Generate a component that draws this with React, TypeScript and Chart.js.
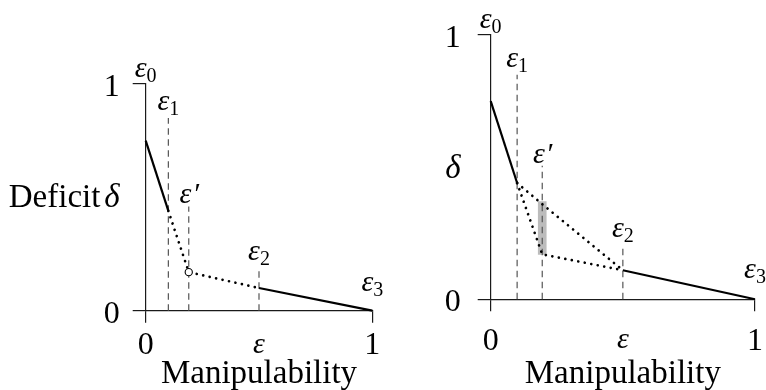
import { useEffect, useRef } from "react";
import { Chart, registerables } from "chart.js";

Chart.register(...registerables);

type Pt = [number, number];

// Shared axis ticks
const xTickValues = [0, 0.5, 1];
const xTickLabels = ["0", "ε", "1"];
const yTickValues = [0, 1];
const yTickLabels = ["0", "1"];

// Left panel: deficit curve with a single intermediate point ε′
const leftHead: Pt[] = [[0, 0.75], [0.1, 0.44]];
const leftDotted: Pt[] = [[0.1, 0.44], [0.19, 0.17], [0.5, 0.1]];
const leftTail: Pt[] = [[0.5, 0.1], [1, 0]];
const leftMarker: Pt[] = [[0.19, 0.17]];
const leftEpsX = [0.1, 0.19, 0.5];
const leftEpsTop = [0.85, 0.46, 0.19];

// Right panel: ε′ carries an interval of possible deficits
const rightHead: Pt[] = [[0, 0.75], [0.1, 0.44]];
const rightUpper: Pt[] = [[0.1, 0.44], [0.195, 0.36], [0.5, 0.11]];
const rightLower: Pt[] = [[0.1, 0.44], [0.195, 0.17], [0.5, 0.11]];
const rightTail: Pt[] = [[0.5, 0.11], [1, 0]];
const rightRangeX = [0.195];
const rightRangeLow = [0.17];
const rightRangeHigh = [0.37];
const rightEpsX = [0.1, 0.195, 0.5];
const rightEpsTop = [0.85, 0.505, 0.205];

// ε labels: guides carry ε1, ε′, ε2; the curve ends carry ε0 and ε3
const epsSubs = ["1", "′", "2"];
const endSubs = ["0", "3"];
const endAnchors: Pt[] = [[0, 1], [1, 0.055]];

const xTitle = "Manipulability";
const yWord = "Deficit";
const ySymbol = "δ";
const yTitleAt = 0.458;

const SERIF = '"Liberation Serif", "Times New Roman", serif';
const INK = "#000";
const AXIS = "#1a1a1a";
const GUIDE = "#555";
const RANGE = "#bcbcbc";

interface PanelSpec {
  left: number;
  width: number;
  pad: { left: number; right: number; top: number; bottom: number };
  yTickPad: number;
  xTickPad: number;
  xTitleDrop: number;
  showWord: boolean;
  solids: Pt[][];
  dotted: Pt[][];
  markers: Pt[];
  epsX: number[];
  epsTop: number[];
  range: boolean;
}

const LEFT: PanelSpec = {
  left: 0,
  width: 383,
  pad: { left: 75.7, right: 10.7, top: 84, bottom: 19.3 },
  yTickPad: 13,
  xTickPad: 4,
  xTitleDrop: 72.5,
  showWord: true,
  solids: [leftHead, leftTail],
  dotted: [leftDotted],
  markers: leftMarker,
  epsX: leftEpsX,
  epsTop: leftEpsTop,
  range: false,
};

const RIGHT: PanelSpec = {
  left: 383,
  width: 383,
  pad: { left: 37.7, right: 11, top: 35, bottom: 30.7 },
  yTickPad: 17,
  xTickPad: 11,
  xTitleDrop: 84,
  showWord: false,
  solids: [rightHead, rightTail],
  dotted: [rightUpper, rightLower],
  markers: [],
  epsX: rightEpsX,
  epsTop: rightEpsTop,
  range: true,
};

const Y_SCALE_WIDTH = 70;
const X_SCALE_HEIGHT = 60;

function drawEps(ctx: CanvasRenderingContext2D, cx: number, bottom: number, sub: string) {
  const epsFont = `italic 30px ${SERIF}`;
  const subFont = `20px ${SERIF}`;
  const prime = sub === "′";
  ctx.font = epsFont;
  const wE = ctx.measureText("ε").width;
  ctx.font = prime ? epsFont : subFont;
  const wS = ctx.measureText(sub).width;
  const left = cx - (wE + wS) / 2;
  const drop = prime ? 0 : 5;
  const base = bottom - drop;
  ctx.textAlign = "left";
  ctx.textBaseline = "alphabetic";
  ctx.font = epsFont;
  ctx.fillText("ε", left, base);
  ctx.font = prime ? epsFont : subFont;
  ctx.fillText(sub, left + wE + (prime ? 1 : 0), prime ? base : base + drop);
}

function textPlugin(p: PanelSpec) {
  return {
    id: "panelText",
    afterDraw(chart: any) {
      const { ctx, chartArea } = chart;
      const x = chart.scales.x;
      const y = chart.scales.y;
      ctx.save();
      ctx.fillStyle = INK;

      p.epsX.forEach((v, i) => {
        drawEps(ctx, x.getPixelForValue(v), y.getPixelForValue(p.epsTop[i]) - 3, epsSubs[i]);
      });
      endAnchors.forEach(([vx, vy], i) => {
        drawEps(ctx, x.getPixelForValue(vx), y.getPixelForValue(vy) - 2, endSubs[i]);
      });

      // y title, written horizontally beside the axis
      const xr = chartArea.left - 13 - p.yTickPad;
      const yb = y.getPixelForValue(yTitleAt);
      ctx.textBaseline = "alphabetic";
      ctx.textAlign = "right";
      ctx.font = `italic 33px ${SERIF}`;
      ctx.fillText(ySymbol, xr, yb);
      if (p.showWord) {
        const wd = ctx.measureText(ySymbol).width;
        ctx.font = `33px ${SERIF}`;
        ctx.fillText(yWord, xr - wd - 4, yb);
      }

      // x title
      ctx.textAlign = "center";
      ctx.font = `33px ${SERIF}`;
      ctx.fillText(xTitle, (chartArea.left + chartArea.right) / 2, y.getPixelForValue(0) + p.xTitleDrop);
      ctx.restore();
    },
  };
}

function buildChart(canvas: HTMLCanvasElement, p: PanelSpec) {
  const xy = (pts: Pt[]) => pts.map(([x, y]) => ({ x, y }));
  const datasets: any[] = [];

  p.markers.forEach((m) => {
    datasets.push({
      data: xy([m]),
      pointRadius: 3.6,
      pointBackgroundColor: "#fff",
      pointBorderColor: INK,
      pointBorderWidth: 1.1,
      showLine: false,
      clip: false,
    });
  });
  p.solids.forEach((s) => {
    datasets.push({
      data: xy(s),
      showLine: true,
      borderColor: INK,
      borderWidth: 2.2,
      pointRadius: 0,
      clip: false,
    });
  });
  p.dotted.forEach((s) => {
    datasets.push({
      data: xy(s),
      showLine: true,
      borderColor: INK,
      borderWidth: 2.7,
      borderDash: [0.01, 6.6],
      borderCapStyle: "round",
      pointRadius: 0,
      clip: false,
    });
  });
  p.epsX.forEach((v, i) => {
    datasets.push({
      data: [
        { x: v, y: 0 },
        { x: v, y: p.epsTop[i] },
      ],
      showLine: true,
      borderColor: GUIDE,
      borderWidth: 1.2,
      borderDash: [6.5, 4.5],
      pointRadius: 0,
      clip: false,
    });
  });
  if (p.range) {
    datasets.push({
      type: "bar",
      data: rightRangeX.map((v, i) => ({ x: v, y: [rightRangeLow[i], rightRangeHigh[i]] })),
      backgroundColor: RANGE,
      borderWidth: 0,
      barThickness: 8,
    });
  }

  const tickFont = { family: SERIF, size: 32 };
  const epsFont = { family: SERIF, size: 30, style: "italic" as const };

  return new Chart(canvas, {
    type: "scatter",
    data: { datasets },
    plugins: [textPlugin(p)],
    options: {
      responsive: false,
      animation: false,
      events: [],
      layout: { padding: p.pad, autoPadding: false },
      plugins: { legend: { display: false }, tooltip: { enabled: false } },
      scales: {
        x: {
          type: "linear",
          min: 0,
          max: 1,
          offset: false,
          afterBuildTicks: (s: any) => {
            s.ticks = xTickValues.map((value) => ({ value }));
          },
          afterFit: (s: any) => {
            s.height = X_SCALE_HEIGHT;
            s.paddingLeft = s.paddingRight = s.paddingTop = s.paddingBottom = 0;
          },
          border: { display: true, color: AXIS, width: 1.2 },
          grid: {
            offset: false,
            drawOnChartArea: false,
            drawTicks: true,
            tickLength: 12,
            lineWidth: 1.2,
            color: (c: any) => (c.tick && c.tick.value === 0.5 ? "rgba(0,0,0,0)" : AXIS),
          },
          ticks: {
            autoSkip: false,
            maxRotation: 0,
            padding: p.xTickPad,
            color: INK,
            font: (c: any) => (c.tick && c.tick.value === 0.5 ? epsFont : tickFont),
            callback: (_v: any, i: number) => xTickLabels[i],
          },
        },
        y: {
          type: "linear",
          min: 0,
          max: 1,
          afterBuildTicks: (s: any) => {
            s.ticks = yTickValues.map((value) => ({ value }));
          },
          afterFit: (s: any) => {
            s.width = Y_SCALE_WIDTH;
            s.paddingLeft = s.paddingRight = s.paddingTop = s.paddingBottom = 0;
          },
          border: { display: true, color: AXIS, width: 1.2 },
          grid: {
            drawOnChartArea: false,
            drawTicks: true,
            tickLength: 13,
            lineWidth: 1.2,
            color: AXIS,
          },
          ticks: {
            autoSkip: false,
            padding: p.yTickPad,
            labelOffset: 3.5,
            color: INK,
            font: tickFont,
            callback: (_v: any, i: number) => yTickLabels[i],
          },
        },
      },
    } as any,
  });
}

function Panel({ spec }: { spec: PanelSpec }) {
  const ref = useRef<HTMLCanvasElement>(null);
  useEffect(() => {
    if (!ref.current) return;
    const chart = buildChart(ref.current, spec);
    return () => chart.destroy();
  }, [spec]);
  return (
    <canvas
      ref={ref}
      width={spec.width}
      height={390}
      style={{ position: "absolute", left: spec.left, top: 0, width: spec.width, height: 390, display: "block" }}
    />
  );
}

export default function App() {
  return (
    <div
      style={{
        position: "fixed",
        left: 0,
        top: 0,
        width: 766,
        height: 390,
        background: "#fff",
        overflow: "hidden",
      }}
    >
      <Panel spec={LEFT} />
      <Panel spec={RIGHT} />
    </div>
  );
}
